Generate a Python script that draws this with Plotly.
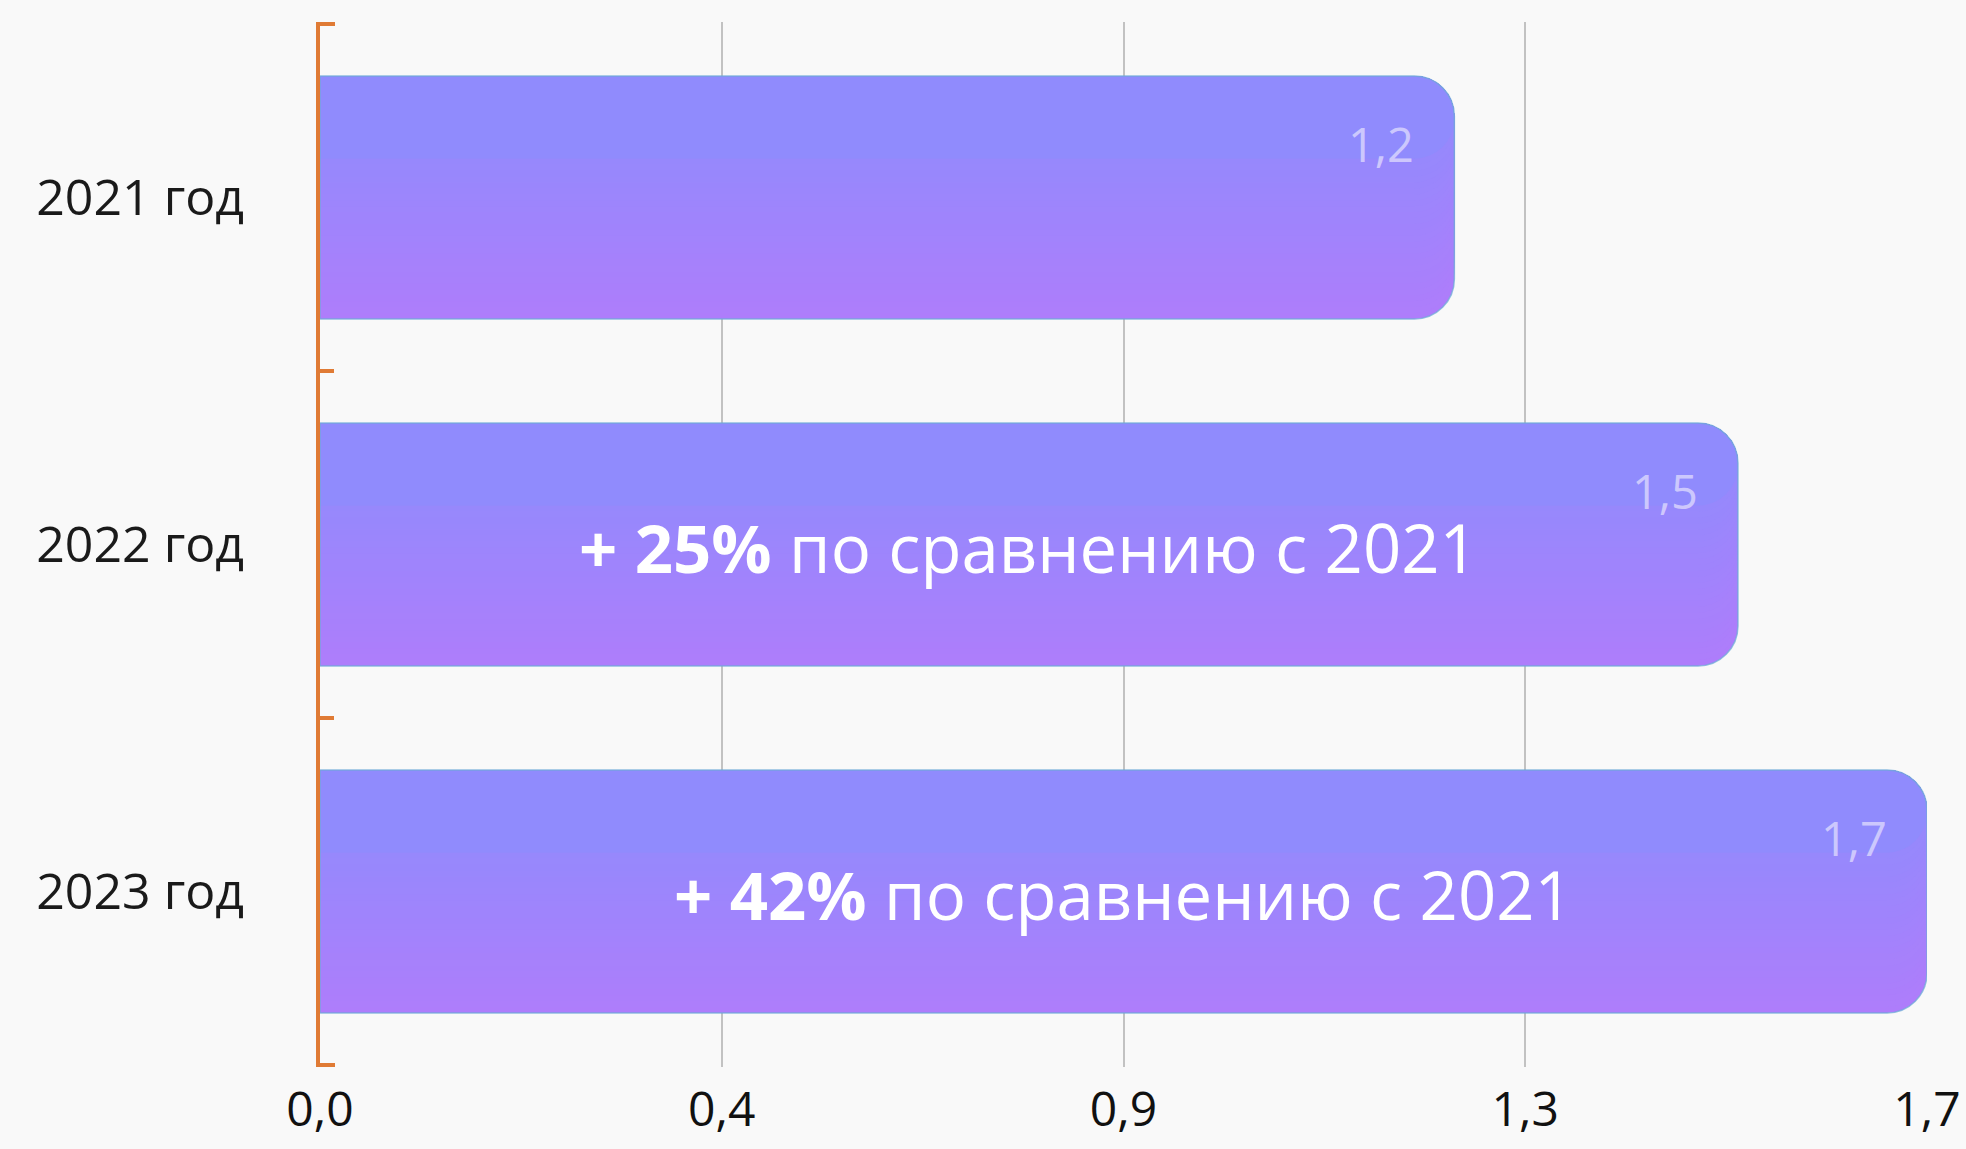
import plotly.graph_objects as go

# ---- data ----
categories = ["2021 год", "2022 год", "2023 год"]
values = [1.2, 1.5, 1.7]
growth_pct = [None, 25, 42]
growth_base_year = "2021"
xtick_vals = [0, 0.425, 0.85, 1.275, 1.7]
xtick_text = ["0,0", "0,4", "0,9", "1,3", "1,7"]

# ---- style ----
FONT = "Open Sans"
BG = "#f9f9f9"
AXIS_C = "#e07b35"
BAR_W = 0.7
RADIUS = 40
TOP_C = (0x8a, 0x8e, 0xfd)
BOT_C = (0xae, 0x7d, 0xfb)
N_STRIPS = 28
MIN_FRAC = 0.34


def lerp(a, b, t):
    return "rgb(%d,%d,%d)" % tuple(round(a[i] + (b[i] - a[i]) * t) for i in range(3))


fig = go.Figure()

# vertical gradient built from overlaid bars anchored at the top edge
fracs = [1.0 - (1.0 - MIN_FRAC) * k / (N_STRIPS - 1) for k in range(N_STRIPS)]
for k, f in enumerate(fracs):
    nxt = fracs[k + 1] if k + 1 < N_STRIPS else 0.0
    mid = (f + nxt) / 2
    fig.add_trace(go.Bar(
        y=categories, x=values, orientation="h",
        width=BAR_W * f, offset=-BAR_W / 2,
        marker=dict(color=lerp(TOP_C, BOT_C, mid), line=dict(width=0), cornerradius=RADIUS),
        hoverinfo="skip", showlegend=False,
    ))

# outline
fig.add_trace(go.Bar(
    y=categories, x=values, orientation="h", width=BAR_W, offset=-BAR_W / 2,
    marker=dict(color="rgba(0,0,0,0)", line=dict(width=1.5, color="rgba(110,170,215,0.75)"),
                cornerradius=RADIUS),
    hoverinfo="skip", showlegend=False,
))

annotations = []
for cat, v, g in zip(categories, values, growth_pct):
    annotations.append(dict(
        x=v, y=cat, xref="x", yref="y", text=f"{v:.1f}".replace(".", ","),
        showarrow=False, xanchor="right", yanchor="middle", xshift=-38, yshift=54,
        font=dict(family=FONT, size=47, color="rgba(232,228,253,0.7)"),
    ))
    if g is not None:
        annotations.append(dict(
            x=v / 2, y=cat, xref="x", yref="y",
            text=f"<b>+ {g}%</b> по сравнению с {growth_base_year}",
            showarrow=False, xanchor="center", yanchor="middle", yshift=-2,
            font=dict(family=FONT, size=67, color="white"),
        ))

# end ticks of the category axis (top and bottom boundaries)
shapes = []
for yb in (-0.5, len(categories) - 0.5):
    shapes.append(dict(
        type="line", xref="x", yref="y", xsizemode="pixel", xanchor=0,
        x0=0, x1=15, y0=yb, y1=yb, line=dict(color=AXIS_C, width=4), layer="above",
    ))

fig.update_layout(
    width=1966, height=1149,
    paper_bgcolor=BG, plot_bgcolor=BG,
    barmode="overlay",
    margin=dict(l=320, r=39, t=22, b=82),
    font=dict(family=FONT, color="#1a1a1a"),
    annotations=annotations,
    shapes=shapes,
    xaxis=dict(
        range=[0, 1.7], tickvals=xtick_vals, ticktext=xtick_text,
        showgrid=True, gridcolor="#c2c2c2", gridwidth=2,
        zeroline=False, showline=False, ticks="",
        tickfont=dict(family=FONT, size=48, color="#111111"),
        ticklabelstandoff=10, automargin=False,
    ),
    yaxis=dict(
        type="category", categoryorder="array", categoryarray=categories,
        autorange="reversed",
        showgrid=False, zeroline=False,
        showline=True, linecolor=AXIS_C, linewidth=4,
        ticks="inside", tickson="boundaries", ticklen=14, tickwidth=4, tickcolor=AXIS_C,
        tickfont=dict(family=FONT, size=50, color="#1a1a1a"),
        ticklabelstandoff=62, automargin=False,
    ),
)

fig.write_html("out.html", config={"displayModeBar": False},
               post_script="document.body.style.margin='0';")
